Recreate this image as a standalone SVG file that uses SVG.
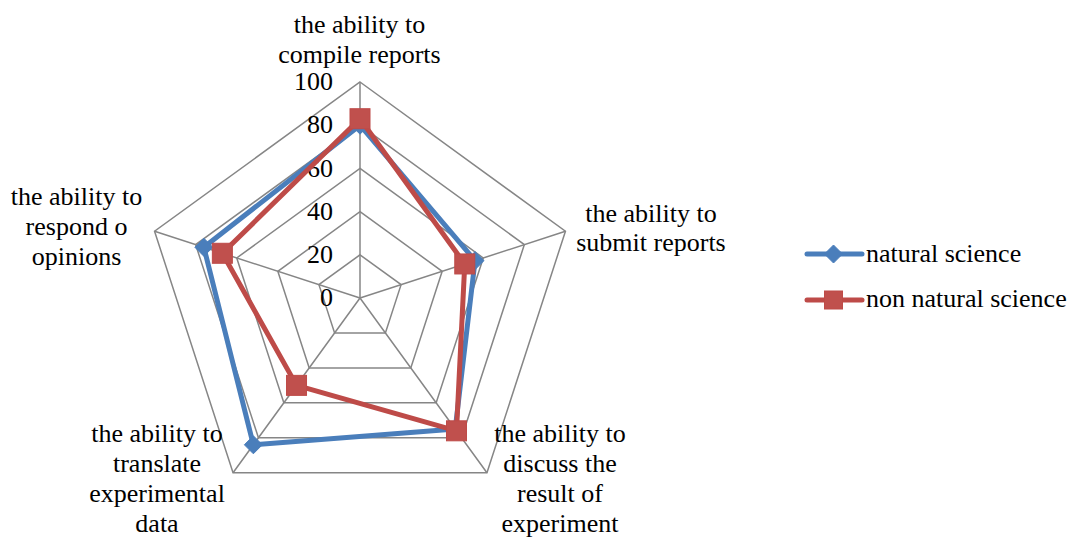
<svg xmlns="http://www.w3.org/2000/svg" width="1073" height="540" viewBox="0 0 1073 540" font-family="'Liberation Serif', 'Times New Roman', 'DejaVu Serif', serif" font-size="26">
<style>
text{font-family:'Liberation Serif','Times New Roman','DejaVu Serif',serif;font-size:26px;fill:#000}
.lab{text-anchor:middle}
.ax{text-anchor:end}
.grid{fill:none;stroke:#868686;stroke-width:1.5}
.blue{fill:none;stroke:#4A7EBB;stroke-width:5;stroke-linejoin:round}
.red{fill:none;stroke:#BE4B48;stroke-width:5;stroke-linejoin:round}
.bm{fill:#4A7EBB;stroke:#4A7EBB;stroke-width:1}
.rm{fill:#C0504D;stroke:#BE4B48;stroke-width:1}
</style>
<defs>
<path id="dia" d="M0,-9 L9,0 L0,9 L-9,0 Z"/>
<rect id="sq" x="-10" y="-10" width="20" height="20"/>
<rect id="sqs" x="-9" y="-9" width="18" height="18"/>
</defs>
<rect width="1073" height="540" fill="#fff"/>
<g id="grid">
<polygon class="grid" points="360,82 565.44,231.26 486.96,472.74 233.04,472.74 154.56,231.26"/>
<polygon class="grid" points="360,125.2 524.35,244.6 461.57,437.8 258.43,437.8 195.65,244.6"/>
<polygon class="grid" points="360,168.4 483.26,257.95 436.18,402.85 283.82,402.85 236.74,257.95"/>
<polygon class="grid" points="360,211.6 442.18,271.3 410.79,367.9 309.21,367.9 277.82,271.3"/>
<polygon class="grid" points="360,254.8 401.09,284.65 385.39,332.95 334.61,332.95 318.91,284.65"/>
<path class="grid" d="M360,298 L360,82 M360,298 L565.44,231.26 M360,298 L486.96,472.74 M360,298 L233.04,472.74 M360,298 L154.56,231.26"/>
</g>
<g id="axis-labels">
<text class="ax" x="333" y="90">100</text>
<text class="ax" x="333" y="133">80</text>
<text class="ax" x="333" y="177">60</text>
<text class="ax" x="333" y="220">40</text>
<text class="ax" x="333" y="263">20</text>
<text class="ax" x="333" y="306">0</text>
</g>
<g id="connectors">
<polygon id="series-natural" class="blue" points="360,125.2 475.05,260.62 455.22,429.06 253.35,444.79 203.87,247.27"/>
<use href="#dia" class="bm" x="360" y="125.2"/>
<use href="#dia" class="bm" x="475.05" y="260.62"/>
<use href="#dia" class="bm" x="455.22" y="429.06"/>
<use href="#dia" class="bm" x="253.35" y="444.79"/>
<use href="#dia" class="bm" x="203.87" y="247.27"/>
<polygon id="series-non" class="red" points="360,118.72 464.77,263.96 456.49,430.81 296.52,385.37 222.36,253.28"/>
<use href="#sq" class="rm" x="360" y="118.72"/>
<use href="#sq" class="rm" x="464.77" y="263.96"/>
<use href="#sq" class="rm" x="456.49" y="430.81"/>
<use href="#sq" class="rm" x="296.52" y="385.37"/>
<use href="#sq" class="rm" x="222.36" y="253.28"/>
</g>
<g id="label-compile">
<text class="lab" x="359.5" y="33">the ability to</text>
<text class="lab" x="359.5" y="63">compile reports</text>
</g>
<g id="label-submit">
<text class="lab" x="651" y="222">the ability to</text>
<text class="lab" x="651" y="251">submit reports</text>
</g>
<g id="label-discuss">
<text class="lab" x="560" y="442">the ability to</text>
<text class="lab" x="560" y="472">discuss the</text>
<text class="lab" x="560" y="502">result of</text>
<text class="lab" x="560" y="532">experiment</text>
</g>
<g id="label-translate">
<text class="lab" x="157" y="442">the ability to</text>
<text class="lab" x="157" y="472">translate</text>
<text class="lab" x="157" y="502">experimental</text>
<text class="lab" x="157" y="532">data</text>
</g>
<g id="label-respond">
<text class="lab" x="76.5" y="205">the ability to</text>
<text class="lab" x="76.5" y="235">respond o</text>
<text class="lab" x="76.5" y="265">opinions</text>
</g>
<g id="legend">
<line class="blue" x1="807" y1="254" x2="862" y2="254" stroke-linecap="round"/>
<use href="#dia" class="bm" x="833.5" y="254"/>
<text x="866" y="262">natural science</text>
<line class="red" x1="807" y1="300" x2="862" y2="300" stroke-linecap="round"/>
<use href="#sqs" class="rm" x="833.5" y="300"/>
<text x="866" y="307">non natural science</text>
</g>
</svg>
